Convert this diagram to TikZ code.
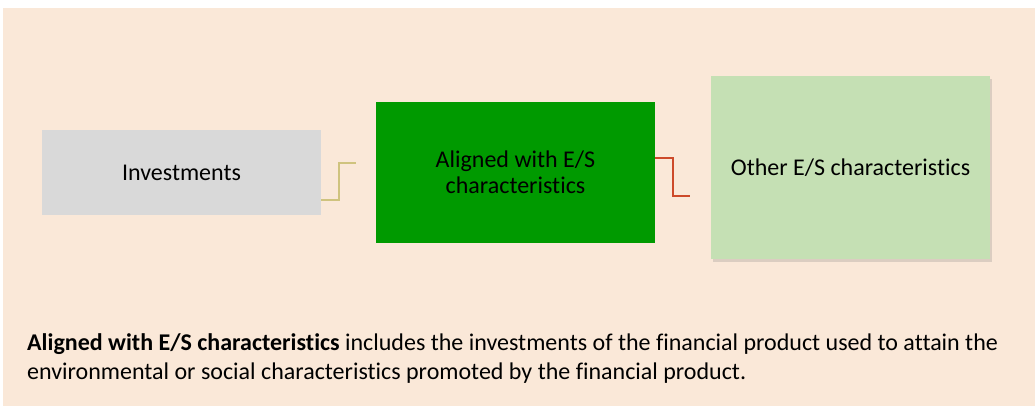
\documentclass[tikz,border=0pt]{standalone}
\usepackage{fontspec}
\setmainfont{Carlito}[Ligatures=NoCommon]
\usetikzlibrary{shadows}

\definecolor{bgpeach}{HTML}{FAE8D8}
\definecolor{invgray}{HTML}{D9D9D9}
\definecolor{aligreen}{HTML}{009A00}
\definecolor{othgreen}{HTML}{C5E0B4}
\definecolor{linekhaki}{HTML}{CFC37E}
\definecolor{linered}{HTML}{CD4A2A}

\begin{document}
\begin{tikzpicture}[x=1pt,y=-1pt,
    box/.style={minimum width=279pt, inner sep=0pt, align=center,
        font=\fontsize{24}{26}\selectfont},
    link/.style={line width=1.6pt}]
    \useasboundingbox (0,0) rectangle (1035,406);
    \fill[bgpeach] (3,8) rectangle (1035,406);

    \node[box, fill=invgray, minimum height=85pt] (inv) at (181.5,172.5) {Investments};
    \node[box, fill=aligreen, minimum height=141pt] (alig) at (515.5,172.5) {Aligned with E/S\\characteristics};
    \node[box, fill=othgreen, minimum height=183pt,
        drop shadow={shadow xshift=1.5pt, shadow yshift=-3pt, opacity=0.25}] (oth) at (850.5,167.5) {Other E/S characteristics};

    % connectors
    \coordinate (endA) at (356,163);
    \coordinate (endB) at (690,196);
    \draw[link, linekhaki] ([yshift=-27.5pt]inv.east) -- (339,200) -- (339,163) -- (endA);
    \draw[link, linered] ([yshift=14.5pt]alig.east) -- (673,158) -- (673,196) -- (endB);

    \node[anchor=base west, inner sep=0pt, align=left, font=\fontsize{24}{29}\selectfont] (note) at (27,379)
        {\textbf{Aligned with E/S characteristics} includes the investments of the financial product used to attain the\\
        environmental or social characteristics promoted by the financial product.};
\end{tikzpicture}
\end{document}
